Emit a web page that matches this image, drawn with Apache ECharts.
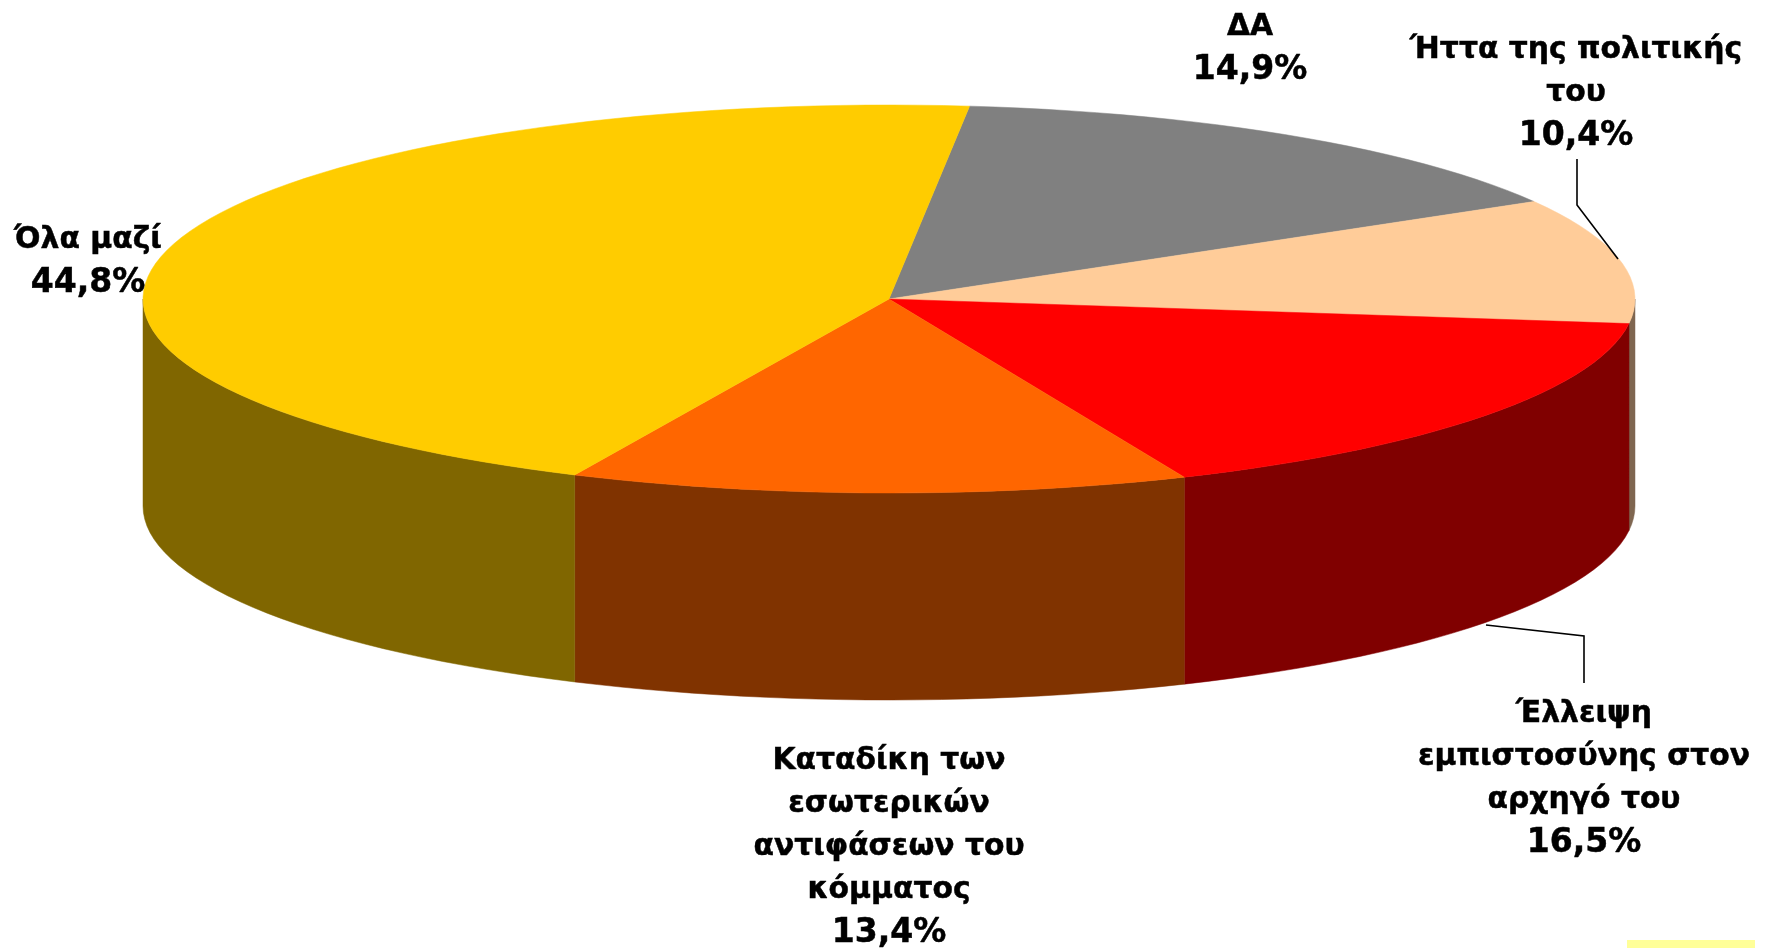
<!DOCTYPE html>
<html>
<head>
<meta charset="utf-8">
<style>html,body{margin:0;padding:0;background:#fff}#c{width:1765px;height:948px}</style>
<script src="https://cdn.jsdelivr.net/npm/echarts@6/dist/echarts.min.js"></script>
</head>
<body>
<div id="c"></div>
<script>
const categories = ['ΔΑ', 'Ήττα της πολιτικής\nτου', 'Έλλειψη\nεμπιστοσύνης στον\nαρχηγό του', 'Καταδίκη των\nεσωτερικών\nαντιφάσεων του\nκόμματος', 'Όλα μαζί'];
const values = [14.9, 10.4, 16.5, 13.4, 44.8];
const valueLabels = ['14,9%', '10,4%', '16,5%', '13,4%', '44,8%'];

const topColors = ['#808080', '#FFCC99', '#FF0000', '#FF6600', '#FFCC00'];
const sideColors = ['#404040', '#7F6650', '#800000', '#803300', '#806600'];
const labelCentres = [[1250, 49], [1576, 93], [1584, 779], [889, 847], [88, 262]];

const FONT = '"DejaVu Sans", sans-serif', LH = 43;
const CX = 889, CY = 299, RX = 746, RY = 194, DEPTH = 207, START_DEG = 6.2;
const total = values.reduce((a, b) => a + b, 0);
const rim = (deg, dy) => {
  const r = deg * Math.PI / 180;
  return [CX + RX * Math.sin(r), CY - RY * Math.cos(r) + (dy || 0)];
};
function arcPoints(a, b, dy) {
  const pts = [], n = Math.max(2, Math.ceil(Math.abs(b - a) / 2));
  for (let i = 0; i <= n; i++) pts.push(rim(a + (b - a) * i / n, dy));
  return pts;
}
function renderSlice(params, api) {
  const i = params.dataIndex;
  let before = 0;
  for (let k = 0; k < i; k++) before += values[k];
  const a = START_DEG + before / total * 360;
  const b = a + api.value(0) / total * 360;
  const children = [];
  const wa = Math.max(a, 90), wb = Math.min(b, 270);
  if (wb > wa) {
    const pts = arcPoints(wa, wb, 0).concat(arcPoints(wb, wa, DEPTH));
    children.push({ type: 'polygon', shape: { points: pts }, style: { fill: sideColors[i], stroke: sideColors[i], lineWidth: 0.5 } });
  }
  const topPts = [[CX, CY]].concat(arcPoints(a, b, 0));
  children.push({ type: 'polygon', z2: 5, shape: { points: topPts }, style: { fill: topColors[i], stroke: topColors[i], lineWidth: 0.5 } });
  return { type: 'group', children };
}

const labelGraphics = categories.map((c, i) => ({
  type: 'text', z: 20, x: labelCentres[i][0], y: labelCentres[i][1],
  style: {
    text: c.split('\n').map(l => '{n|' + l + '}').join('\n') + '\n{p|' + valueLabels[i] + '}',
    fill: '#000', align: 'center', verticalAlign: 'middle',
    rich: {
      n: { font: 'bold 29.8px ' + FONT, lineHeight: LH, fill: '#000', stroke: '#000', lineWidth: 0.5 },
      p: { font: 'bold 33px ' + FONT, lineHeight: LH, fill: '#000', stroke: '#000', lineWidth: 0.5 }
    }
  }
}));
const leader = pts => ({ type: 'polyline', z: 15, shape: { points: pts }, style: { stroke: '#000', lineWidth: 1.6, fill: null } });

const chart = echarts.init(document.getElementById('c'), null, { renderer: 'canvas' });
chart.setOption({
  animation: false,
  backgroundColor: '#fff',
  series: [{
    type: 'custom', coordinateSystem: 'none', renderItem: renderSlice,
    data: values.map((v, i) => ({ name: categories[i], value: [v] })),
    silent: true
  }],
  graphic: labelGraphics.concat([
    leader([[1577, 159], [1577, 205], [1618, 259]]),
    leader([[1486, 625], [1584, 636], [1584, 683]]),
    { type: 'rect', z: 1, shape: { x: 1627, y: 940, width: 128, height: 8 }, style: { fill: '#FFFF99' } }
  ])
});
</script>
</body>
</html>
